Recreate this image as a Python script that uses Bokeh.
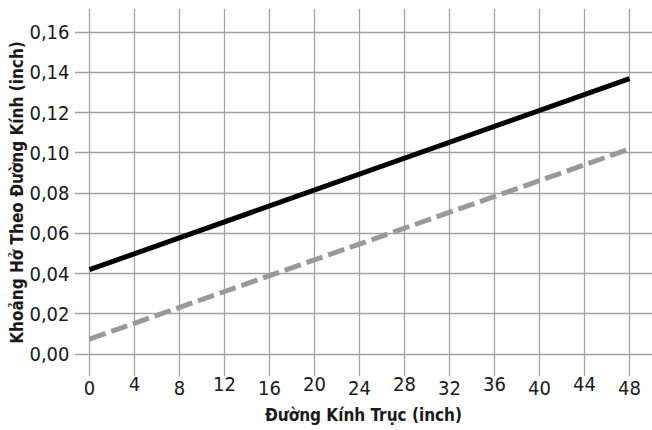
from bokeh.plotting import figure
from bokeh.models import (Range1d, FixedTicker, LinearAxis, Title,
                          CustomJSTickFormatter)
from bokeh.embed import file_html
from bokeh.resources import INLINE

# ---- data ----
shaft_diameter = [0, 48]                 # inch
clearance_upper = [0.042, 0.137]         # solid black line
clearance_lower = [0.0075, 0.102]        # dashed grey line

x_ticks = [0, 4, 8, 12, 16, 20, 24, 28, 32, 36, 40, 44, 48]
y_ticks = [0.00, 0.02, 0.04, 0.06, 0.08, 0.10, 0.12, 0.14, 0.16]

x_title = "Đường Kính Trục (inch)"
y_title = "Khoảng Hở Theo Đường Kính (inch)"

FONT = "'DejaVu Sans Condensed', Roboto, sans-serif"
TXT = "#1a1a1a"
GRID = "#a3a3a3"

p = figure(width=652, height=430, output_backend="svg", toolbar_location=None,
           x_range=Range1d(-1.333, 50.04), y_range=Range1d(-0.0111, 0.1718),
           min_border_left=74, min_border_right=0, min_border_top=8,
           min_border_bottom=54)
p.outline_line_color = None
p.background_fill_color = "white"
p.border_fill_color = "white"

# grids
p.xgrid.ticker = FixedTicker(ticks=x_ticks)
p.ygrid.ticker = FixedTicker(ticks=y_ticks)
for g in (p.xgrid[0], p.ygrid[0]):
    g.grid_line_color = GRID
    g.grid_line_width = 1.3


def style_axis(ax):
    ax.axis_line_color = None
    ax.major_tick_line_color = None
    ax.minor_tick_line_color = None
    ax.major_tick_out = 0
    ax.major_tick_in = 0
    ax.minor_tick_out = 0
    ax.major_label_text_font = FONT
    ax.major_label_text_font_size = "20px"
    ax.major_label_text_color = TXT


# upper row of x labels (4, 12, 20, ...)
xb = p.xaxis[0]
style_axis(xb)
xb.ticker = FixedTicker(ticks=x_ticks[1::2])
xb.major_label_standoff = 0

# lower row of x labels (0, 8, 16, ...) with axis title
xa = LinearAxis(ticker=FixedTicker(ticks=x_ticks[0::2]))
style_axis(xa)
xa.major_label_standoff = -13
xa.axis_label = x_title
xa.axis_label_standoff = 7
xa.axis_label_text_font = FONT
xa.axis_label_text_font_size = "17px"
xa.axis_label_text_font_style = "bold"
xa.axis_label_text_color = TXT
p.add_layout(xa, "below")

# y axis
ya = p.yaxis[0]
style_axis(ya)
ya.ticker = FixedTicker(ticks=y_ticks)
ya.formatter = CustomJSTickFormatter(code="return tick.toFixed(2).replace('.', ',');")
ya.major_label_standoff = 5

p.add_layout(Title(text=y_title, align="center", offset=19, standoff=0,
                   text_font=FONT, text_font_size="17px",
                   text_font_style="bold", text_color=TXT), "left")

# lines
p.line(shaft_diameter, clearance_lower, line_color="#999999", line_width=5,
       line_dash="17 6")
p.line(shaft_diameter, clearance_upper, line_color="black", line_width=5)

open("out.html", "w").write(file_html(p, INLINE))
